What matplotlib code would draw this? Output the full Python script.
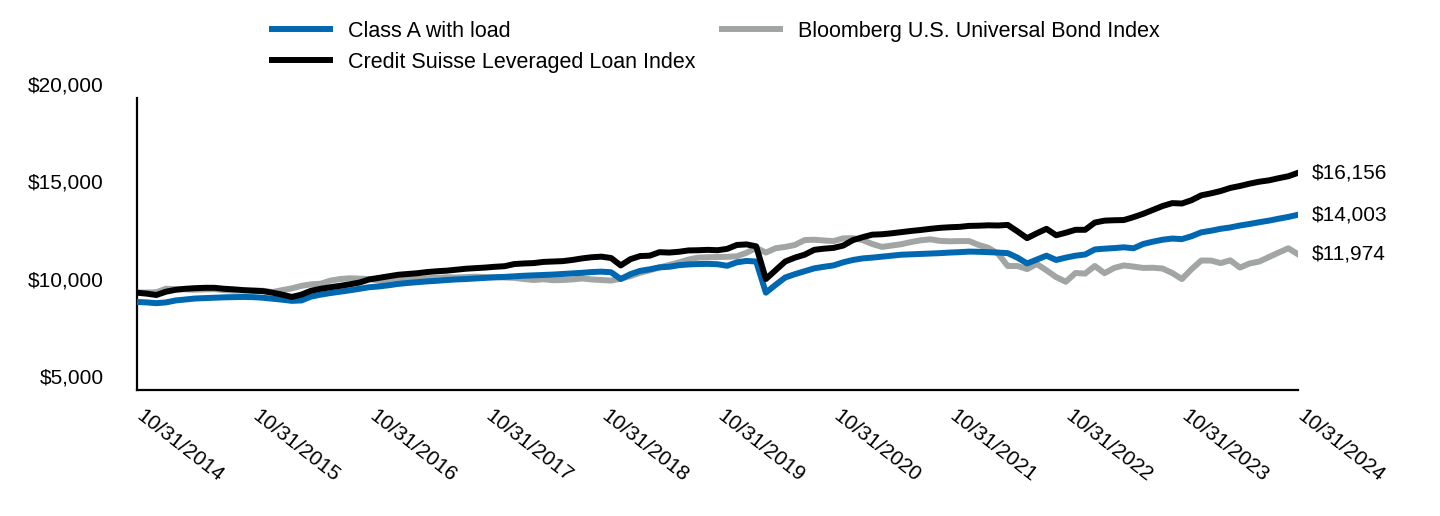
import numpy as np
import matplotlib
matplotlib.use("Agg")
import matplotlib.pyplot as plt
import matplotlib.transforms as mtransforms

plt.rcParams['font.family'] = ['Liberation Sans', 'DejaVu Sans']

# monthly values, 10/31/2014 .. 10/31/2024
class_a = [9520, 9500, 9460, 9500, 9600, 9650, 9700, 9720, 9740, 9760, 9770, 9780,
           9770, 9740, 9690, 9640, 9580, 9600, 9800, 9900, 9980, 10050, 10120, 10200,
           10280, 10320, 10380, 10450, 10500, 10540, 10580, 10610, 10650, 10680, 10700, 10730,
           10760, 10790, 10810, 10840, 10870, 10890, 10910, 10930, 10960, 10990, 11020, 11060,
           11080, 11050, 10700, 10950, 11120, 11200, 11300, 11330, 11410, 11450, 11470, 11480,
           11460, 11380, 11560, 11630, 11600, 10000, 10400, 10780, 10950, 11100, 11250, 11330,
           11400, 11560, 11680, 11760, 11800, 11850, 11900, 11950, 11970, 11990, 12010, 12030,
           12060, 12080, 12110, 12100, 12080, 12060, 12030, 11800, 11500, 11700, 11900, 11680,
           11800, 11900, 11960, 12220, 12260, 12290, 12330, 12280, 12500, 12620, 12720, 12780,
           12750, 12900, 13100, 13180, 13280, 13350, 13450, 13530, 13620, 13700, 13800, 13890,
           14003]

cs_loan = [10000, 9950, 9880, 10050, 10150, 10200, 10230, 10250, 10250, 10200, 10170, 10130,
           10100, 10080, 10000, 9900, 9780, 9900, 10100, 10200, 10280, 10350, 10430, 10520,
           10680, 10760, 10840, 10920, 10960, 11000, 11060, 11100, 11130, 11180, 11230, 11260,
           11290, 11330, 11360, 11470, 11500, 11520, 11580, 11600, 11620, 11680, 11760, 11820,
           11850, 11780, 11400, 11720, 11880, 11900, 12080, 12060, 12100, 12170, 12180, 12200,
           12180, 12250, 12450, 12480, 12380, 10700, 11150, 11600, 11800, 11950, 12200, 12260,
           12300, 12420, 12700, 12850, 12980, 13000, 13050, 13110, 13170, 13220, 13280, 13330,
           13360, 13380, 13430, 13440, 13460, 13450, 13480, 13150, 12800, 13050, 13280, 12950,
           13080, 13230, 13230, 13600, 13700, 13720, 13730, 13880, 14050, 14250, 14450, 14600,
           14580, 14750, 15000, 15100, 15220, 15380, 15480, 15600, 15700, 15770, 15880, 15980,
           16156]

bbg_univ = [10000, 10010, 10020, 10200, 10180, 10170, 10150, 10170, 10180, 10130, 10100, 10110,
            10120, 10100, 10030, 10130, 10220, 10350, 10430, 10460, 10620, 10700, 10740, 10720,
            10700, 10620, 10600, 10640, 10700, 10720, 10740, 10760, 10790, 10780, 10800, 10820,
            10800, 10790, 10780, 10760, 10700, 10650, 10690, 10640, 10650, 10680, 10730, 10680,
            10650, 10620, 10720, 10850, 11020, 11150, 11300, 11420, 11550, 11700, 11800, 11820,
            11830, 11840, 11870, 12050, 12300, 12060, 12280, 12350, 12450, 12700, 12720, 12680,
            12650, 12790, 12800, 12700, 12500, 12350, 12420, 12490, 12600, 12690, 12740, 12660,
            12640, 12650, 12650, 12450, 12300, 12000, 11370, 11370, 11210, 11470, 11150, 10800,
            10560, 11010, 10980, 11370, 11000, 11270, 11400, 11340, 11270, 11280, 11240, 11010,
            10700, 11210, 11650, 11650, 11520, 11660, 11290, 11500, 11600, 11830, 12060, 12280,
            11974]

tick_labels = ['10/31/2014', '10/31/2015', '10/31/2016', '10/31/2017', '10/31/2018',
               '10/31/2019', '10/31/2020', '10/31/2021', '10/31/2022', '10/31/2023',
               '10/31/2024']
end_labels = ['$14,003', '$16,156', '$11,974']

x = np.arange(len(class_a))

fig = plt.figure(figsize=(14.4, 5.16), dpi=100)
ax = fig.add_axes([137/1440, 1 - 390/516, (1298 - 137)/1440, (390 - 98)/516])

blue = '#0067b1'
grey = '#a1a5a4'
l1, = ax.plot(x, class_a, color=blue, lw=4.3, label='Class A with load', zorder=3)
l3, = ax.plot(x, bbg_univ, color=grey, lw=4.3, label='Bloomberg U.S. Universal Bond Index', zorder=2)
l2, = ax.plot(x, cs_loan, color='black', lw=4.3, label='Credit Suisse Leveraged Loan Index', zorder=4)

ax.set_xlim(0, 120)
ax.set_ylim(5000, 20000)
ax.set_yticks([5000, 10000, 15000, 20000])
ax.set_yticklabels(['$5,000', '$10,000', '$15,000', '$20,000'], fontsize=15)
ax.set_xticks(np.arange(0, 121, 12))
ax.set_xticklabels(tick_labels, fontsize=15, rotation=-38, ha='left', va='top',
                   rotation_mode='anchor')
ax.tick_params(axis='y', length=0, pad=24)
ax.tick_params(axis='x', length=0, pad=12)
# y labels sit above their values, date labels a bit to the right
up = mtransforms.ScaledTranslation(0, 14/100, fig.dpi_scale_trans)
for t in ax.get_yticklabels():
    t.set_transform(t.get_transform() + up)
right = mtransforms.ScaledTranslation(8/100, 0, fig.dpi_scale_trans)
for t in ax.get_xticklabels():
    t.set_transform(t.get_transform() + right)

for s in ['top', 'right']:
    ax.spines[s].set_visible(False)
for s in ['left', 'bottom']:
    ax.spines[s].set_linewidth(1.6)

for series, lab in zip([class_a, cs_loan, bbg_univ], end_labels):
    ax.annotate(lab, xy=(x[-1], series[-1]), xytext=(10, 0), textcoords='offset points',
                va='center', ha='left', fontsize=15, annotation_clip=False)

fig.legend(handles=[l1, l2, l3], loc='upper left', bbox_to_anchor=(272/1440, 1 - 21/516),
           ncol=2, frameon=False, fontsize=15.5, handlelength=2.7, handletextpad=0.85,
           columnspacing=1.2, labelspacing=0.45, borderpad=0, borderaxespad=0)

fig.savefig('out.png', dpi=100)
